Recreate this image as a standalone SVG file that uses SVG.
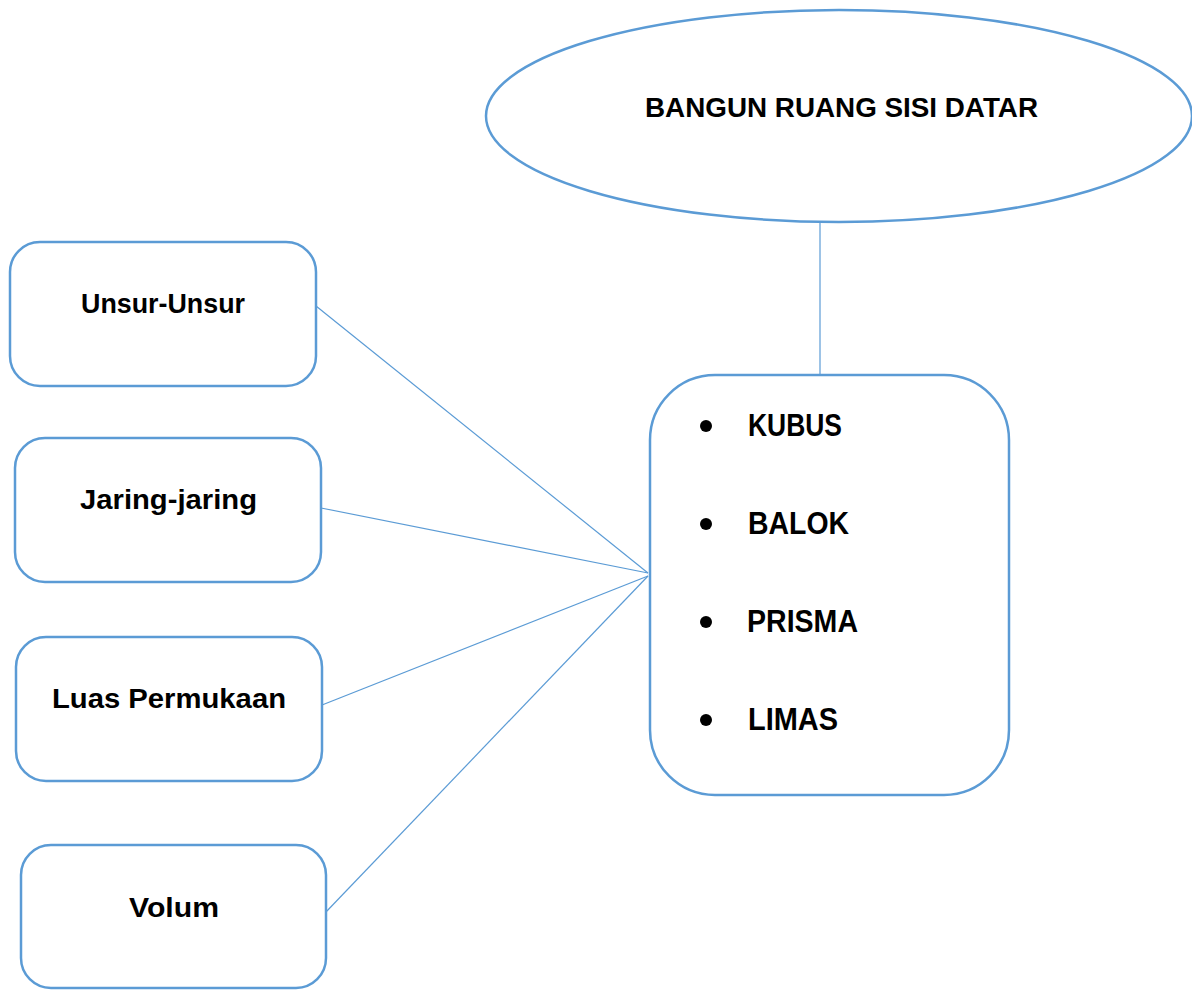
<svg xmlns="http://www.w3.org/2000/svg" width="1192" height="990" viewBox="0 0 1192 990">
<style>
.shape{fill:#fff;stroke:#5B9BD5;stroke-width:2.5}
.conn{stroke:#5B9BD5;stroke-width:1.2;fill:none}
.t{font-family:"Liberation Sans",Arial,sans-serif;font-weight:bold;fill:#000}
.lbl{font-size:27px}
.item{font-size:32px}
</style>
<rect width="1192" height="990" fill="#fff"/>
<g id="connectors">
<line class="conn" x1="820" y1="222" x2="820" y2="375"/>
<line class="conn" x1="316" y1="306" x2="648" y2="573"/>
<line class="conn" x1="321" y1="508" x2="648" y2="573"/>
<line class="conn" x1="322" y1="705" x2="648" y2="576"/>
<line class="conn" x1="325" y1="913" x2="648" y2="576"/>
</g>
<g id="title">
<ellipse class="shape" cx="839" cy="116" rx="353" ry="106"/>
<text class="t" x="645" y="117" font-size="27" textLength="393" lengthAdjust="spacingAndGlyphs">BANGUN RUANG SISI DATAR</text>
</g>
<g id="types">
<rect class="shape" x="650" y="375" width="359" height="420" rx="65" ry="65"/>
<circle cx="706" cy="426" r="6"/>
<text class="t item" x="748" y="436" textLength="94" lengthAdjust="spacingAndGlyphs">KUBUS</text>
<circle cx="706" cy="524" r="6"/>
<text class="t item" x="748" y="534" textLength="101" lengthAdjust="spacingAndGlyphs">BALOK</text>
<circle cx="706" cy="622" r="6"/>
<text class="t item" x="747" y="632" textLength="111" lengthAdjust="spacingAndGlyphs">PRISMA</text>
<circle cx="706" cy="720" r="6"/>
<text class="t item" x="748" y="730" textLength="90" lengthAdjust="spacingAndGlyphs">LIMAS</text>
</g>
<g id="unsur">
<rect class="shape" x="10" y="242" width="306" height="144" rx="30" ry="30"/>
<text class="t lbl" x="81" y="313" textLength="164" lengthAdjust="spacingAndGlyphs">Unsur-Unsur</text>
</g>
<g id="jaring">
<rect class="shape" x="15" y="438" width="306" height="144" rx="30" ry="30"/>
<text class="t lbl" x="80" y="509" textLength="177" lengthAdjust="spacingAndGlyphs">Jaring-jaring</text>
</g>
<g id="luas">
<rect class="shape" x="16" y="637" width="306" height="144" rx="30" ry="30"/>
<text class="t lbl" x="52" y="708" textLength="234" lengthAdjust="spacingAndGlyphs">Luas Permukaan</text>
</g>
<g id="volum">
<rect class="shape" x="21" y="845" width="305" height="143" rx="30" ry="30"/>
<text class="t lbl" x="129" y="917" textLength="90" lengthAdjust="spacingAndGlyphs">Volum</text>
</g>
</svg>
